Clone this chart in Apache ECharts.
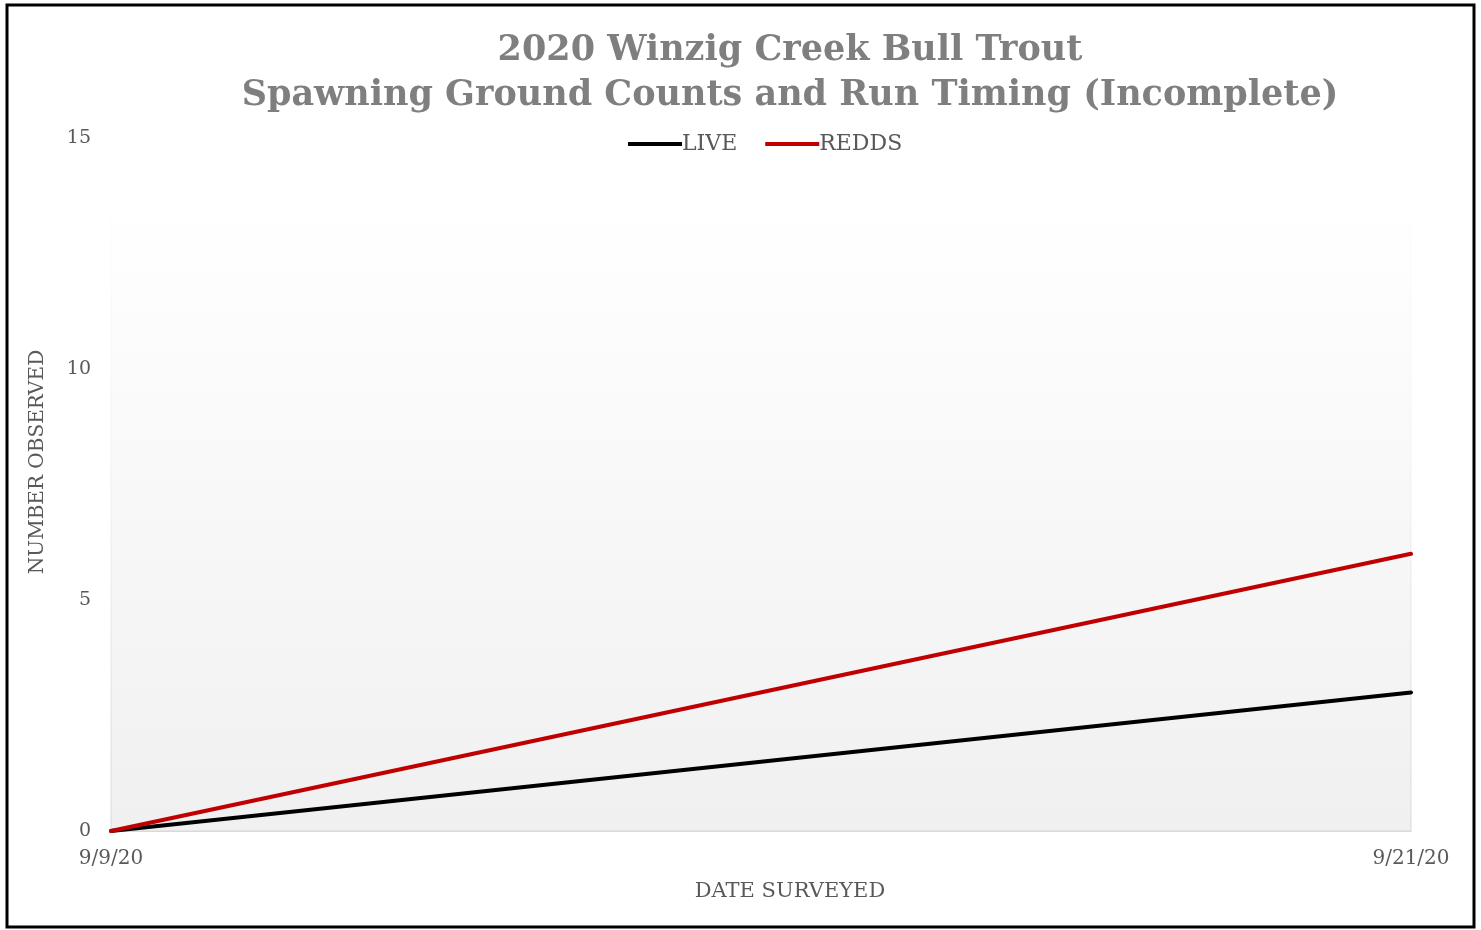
<!DOCTYPE html>
<html>
<head>
<meta charset="utf-8">
<script src="https://cdn.jsdelivr.net/npm/echarts@6/dist/echarts.min.js"></script>
<style>
html,body{margin:0;padding:0;background:#fff;}
#chart{width:1481px;height:930px;}
</style>
</head>
<body>
<div id="chart"></div>
<script>
var categories = ['9/9/20', '9/21/20'];
var liveValues = [0, 3];
var reddsValues = [0, 6];
var yTicks = [0, 5, 10, 15];

var serif = '"DejaVu Serif", "Liberation Serif", serif';
var chart = echarts.init(document.getElementById('chart'));
var option = {
  backgroundColor: '#ffffff',
  animation: false,
  title: {
    text: '2020 Winzig Creek Bull Trout\nSpawning Ground Counts and Run Timing (Incomplete)',
    left: 785, textAlign: 'center', top: 23,
    textStyle: { fontFamily: serif, fontWeight: 'bold', fontSize: 35, color: '#7f7f7f', lineHeight: 45 }
  },
  legend: {
    top: 128, left: 623,
    itemWidth: 54, itemHeight: 4, itemGap: 28,
    icon: 'rect',
    textStyle: { fontFamily: serif, fontSize: 22, color: '#595959', padding: [0, 0, 0, -5] },
    data: ['LIVE', 'REDDS']
  },
  graphic: [{
    type: 'rect', shape: { x: 7, y: 5, width: 1467, height: 922 },
    style: { fill: 'none', stroke: '#000', lineWidth: 3 }, silent: true
  }, {
    type: 'text', silent: true,
    x: 790, y: 892,
    style: { text: 'DATE SURVEYED', align: 'center', verticalAlign: 'middle',
      font: '21px ' + serif, fill: '#595959' }
  }, {
    type: 'text', silent: true,
    x: 38, y: 462, rotation: Math.PI / 2,
    style: { text: 'NUMBER OBSERVED', align: 'center', verticalAlign: 'middle',
      font: '20px ' + serif, fill: '#595959' }
  }],
  grid: {
    left: 111, right: 70, top: 138, bottom: 99, show: true,
    backgroundColor: { type: 'linear', x: 0, y: 0, x2: 0, y2: 1,
      colorStops: [{ offset: 0, color: '#ffffff' }, { offset: 0.1, color: '#ffffff' }, { offset: 1, color: '#f0f0f0' }] },
    borderWidth: 1,
    borderColor: { type: 'linear', x: 0, y: 0, x2: 0, y2: 1,
      colorStops: [{ offset: 0, color: 'rgba(217,217,217,0)' }, { offset: 0.5, color: 'rgba(217,217,217,0.3)' }, { offset: 1, color: '#d9d9d9' }] }
  },
  xAxis: {
    type: 'category', data: categories, boundaryGap: false,
    axisLine: { lineStyle: { color: '#d9d9d9', width: 1 } },
    axisTick: { show: false },
    axisLabel: { fontFamily: serif, fontSize: 20, color: '#595959', margin: 18 },
    splitLine: { show: false }
  },
  yAxis: {
    type: 'value', min: yTicks[0], max: yTicks[yTicks.length - 1], interval: 5,
    axisLine: { show: false }, axisTick: { show: false },
    axisLabel: { fontFamily: serif, fontSize: 19, color: '#595959', margin: 20 },
    splitLine: { show: false }
  },
  series: [
    { name: 'LIVE', type: 'line', data: liveValues, symbol: 'none',
      lineStyle: { color: '#000000', width: 4, cap: 'round' }, itemStyle: { color: '#000000' } },
    { name: 'REDDS', type: 'line', data: reddsValues, symbol: 'none',
      lineStyle: { color: '#c00000', width: 4, cap: 'round' }, itemStyle: { color: '#c00000' } }
  ]
};
chart.setOption(option);
</script>
</body>
</html>
